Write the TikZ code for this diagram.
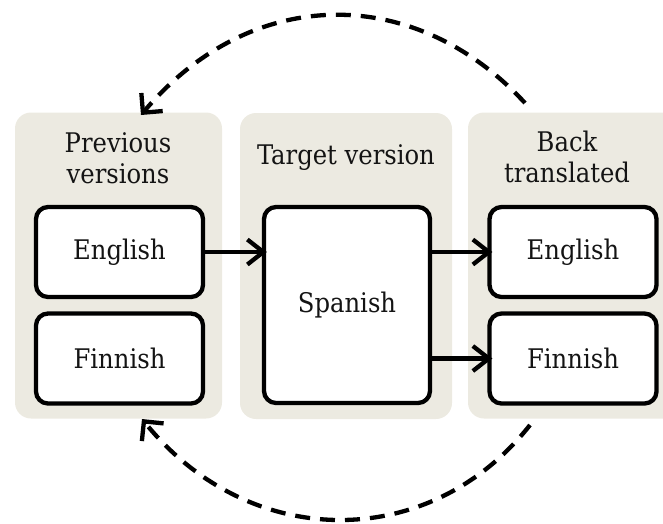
\documentclass[tikz,border=0pt]{standalone}
\usepackage{fontspec}
\setmainfont{DejaVu Serif Condensed}
\usetikzlibrary{arrows.meta,positioning}
\definecolor{panelgray}{RGB}{236,234,225}

\begin{document}
\begin{tikzpicture}[x=1pt,y=-1pt,on grid,>={Straight Barb[length=16pt,width=25pt]},
line width=4.3pt,
every node/.style={font=\fontsize{27}{31}\selectfont,text=black!92},
panel/.style={fill=panelgray,draw=none,rounded corners=16pt,minimum height=306pt},
lang/.style={draw,fill=white,rounded corners=12pt,minimum width=167pt,minimum height=90pt},
heading/.style={align=center},
back/.style={dash pattern=on 15pt off 10pt,-{Straight Barb[length=14pt,width=28pt]}}]

\useasboundingbox (0,0) rectangle (663,523);

% grey columns
\node[panel,minimum width=207pt] (prevPanel) at (118.5,265.5) {};
\node[panel,minimum width=212pt] (targetPanel) at (346,266) {};
\node[panel,minimum width=212pt] (backPanel) at (574,265.5) {};

\node[heading] (prevTitle) at (118,158) {Previous\\versions};
\node[heading] (targetTitle) at (346,158) {Target version};
\node[heading] (backTitle) at (567,157) {Back\\translated};

\node[lang] (enPrev) at (119.5,252) {English};
\node[lang] (fiPrev) [below=106.5pt of enPrev] {Finnish};
\node[lang,minimum width=166pt,minimum height=196pt] (spanish) at (347,305) {Spanish};
\node[lang] (enBack) [right=453.5pt of enPrev] {English};
\node[lang] (fiBack) [right=453.5pt of fiPrev] {Finnish};

\path[->,shorten >=-5pt]
      (enPrev.east) edge (enPrev.east -| spanish.west)
      (spanish.east |- enBack) edge (enBack.west)
      (spanish.east |- fiBack) edge (fiBack.west);

% round trip
\coordinate (topStart) at (525,103);
\coordinate (topEnd) at (141,115);
\coordinate (botStart) at (530,425);
\coordinate (botEnd) at (142,419);
\draw[back] (topStart) .. controls (415,-16) and (252,-16) .. (topEnd);
\draw[back] (botStart) .. controls (430,552) and (250,552) .. (botEnd);

\end{tikzpicture}
\end{document}
